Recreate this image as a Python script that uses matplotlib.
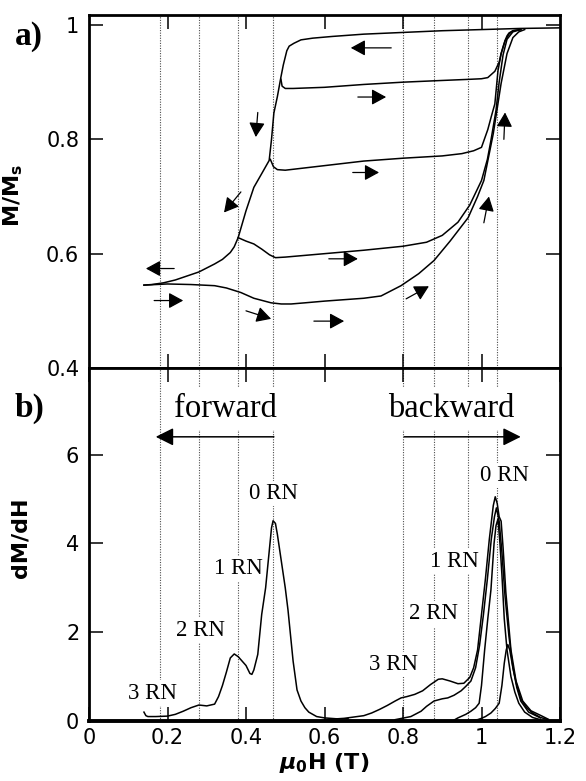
import numpy as np
import matplotlib
matplotlib.use("Agg")
import matplotlib.pyplot as plt

plt.rcParams['mathtext.fontset'] = 'custom'
plt.rcParams['mathtext.it'] = 'DejaVu Sans:italic:bold'
plt.rcParams['mathtext.rm'] = 'DejaVu Sans:bold'
plt.rcParams['mathtext.bf'] = 'DejaVu Sans:bold'

# ---- panel a: M/Ms loops ----
major_H = [1.2, 1.1, 1.0, 0.9, 0.8, 0.7, 0.62, 0.57, 0.54, 0.522, 0.51, 0.504, 0.495, 0.489,
           0.48, 0.471, 0.465, 0.459, 0.44, 0.42, 0.40, 0.38, 0.37, 0.36, 0.34, 0.32, 0.30,
           0.28, 0.25, 0.22, 0.19, 0.16, 0.14]
major_M = [0.995, 0.994, 0.992, 0.99, 0.987, 0.984, 0.98, 0.977, 0.974, 0.968, 0.963, 0.955,
           0.93, 0.909, 0.875, 0.846, 0.80, 0.763, 0.74, 0.716, 0.675, 0.628, 0.612, 0.602,
           0.59, 0.582, 0.575, 0.568, 0.561, 0.554, 0.549, 0.546, 0.545]

rec1_H = [0.489, 0.492, 0.50, 0.52, 0.56, 0.60, 0.70, 0.80, 0.90, 0.97, 1.0, 1.016, 1.034,
          1.045, 1.05, 1.055, 1.06, 1.065, 1.07, 1.08, 1.10]
rec1_M = [0.905, 0.893, 0.889, 0.889, 0.890, 0.891, 0.896, 0.90, 0.903, 0.905, 0.906, 0.908,
          0.919, 0.935, 0.95, 0.962, 0.973, 0.981, 0.986, 0.99, 0.992]

rec2_H = [0.462, 0.47, 0.48, 0.50, 0.55, 0.60, 0.70, 0.80, 0.90, 0.95, 0.98, 1.0, 1.016,
          1.025, 1.034, 1.042, 1.05, 1.06, 1.07, 1.08, 1.10]
rec2_M = [0.765, 0.752, 0.747, 0.746, 0.75, 0.754, 0.762, 0.767, 0.771, 0.775, 0.780, 0.786,
          0.817, 0.84, 0.862, 0.92, 0.95, 0.972, 0.984, 0.99, 0.992]

rec3_H = [0.38, 0.40, 0.42, 0.44, 0.46, 0.475, 0.50, 0.55, 0.60, 0.70, 0.80, 0.86, 0.90,
          0.94, 0.97, 1.0, 1.015, 1.024, 1.037, 1.045, 1.055, 1.065, 1.08, 1.10]
rec3_M = [0.628, 0.622, 0.617, 0.608, 0.598, 0.593, 0.594, 0.597, 0.60, 0.606, 0.613, 0.62,
          0.632, 0.655, 0.685, 0.728, 0.765, 0.798, 0.851, 0.90, 0.948, 0.975, 0.988, 0.992]

rec4_H = [0.14, 0.20, 0.26, 0.32, 0.35, 0.387, 0.42, 0.464, 0.49, 0.515, 0.55, 0.60, 0.70,
          0.744, 0.795, 0.84, 0.879, 0.92, 0.966, 0.99, 1.006, 1.03, 1.05, 1.065, 1.08, 1.095, 1.11]
rec4_M = [0.545, 0.547, 0.546, 0.544, 0.54, 0.532, 0.522, 0.514, 0.512, 0.512, 0.514, 0.517,
          0.522, 0.526, 0.544, 0.565, 0.588, 0.622, 0.663, 0.70, 0.728, 0.81, 0.898, 0.95,
          0.978, 0.988, 0.992]

# arrows in panel a: (tail H, tail M, tip H, tip M)
arrows_a = [
    (0.77, 0.96, 0.667, 0.96),
    (0.685, 0.874, 0.757, 0.874),
    (0.672, 0.742, 0.739, 0.742),
    (0.611, 0.591, 0.685, 0.591),
    (0.573, 0.482, 0.65, 0.482),
    (0.808, 0.521, 0.866, 0.543),
    (1.006, 0.654, 1.019, 0.70),
    (1.057, 0.80, 1.06, 0.847),
    (0.43, 0.847, 0.425, 0.804),
    (0.387, 0.708, 0.344, 0.672),
    (0.217, 0.574, 0.145, 0.574),
    (0.166, 0.518, 0.24, 0.518),
    (0.40, 0.50, 0.464, 0.486),
]

# ---- panel b: dM/dH ----
fwd_H = [0.14, 0.145, 0.15, 0.17, 0.20, 0.22, 0.24, 0.26, 0.28, 0.30, 0.32, 0.33, 0.34, 0.35,
         0.36, 0.37, 0.38, 0.39, 0.40, 0.41, 0.415, 0.42, 0.43, 0.44, 0.45, 0.46, 0.465, 0.469,
         0.475, 0.48, 0.49, 0.50, 0.507, 0.52, 0.53, 0.54, 0.55, 0.56, 0.58, 0.60, 0.63, 0.66]
fwd_D = [0.2, 0.12, 0.1, 0.1, 0.11, 0.15, 0.22, 0.3, 0.36, 0.34, 0.38, 0.55, 0.8, 1.1,
         1.42, 1.51, 1.45, 1.35, 1.25, 1.07, 1.05, 1.15, 1.5, 2.4, 3.0, 3.9, 4.35, 4.51,
         4.45, 4.2, 3.6, 3.0, 2.5, 1.35, 0.7, 0.45, 0.3, 0.2, 0.1, 0.07, 0.05, 0.05]

bwdA_H = [0.60, 0.65, 0.70, 0.72, 0.74, 0.76, 0.78, 0.795, 0.81, 0.83, 0.85, 0.87, 0.89, 0.90,
          0.92, 0.94, 0.955, 0.97, 0.98, 0.99, 1.0, 1.01, 1.02, 1.03, 1.035, 1.04, 1.045,
          1.05, 1.055, 1.062, 1.07, 1.075, 1.088, 1.105, 1.126, 1.152, 1.17]
bwdA_D = [0.03, 0.06, 0.12, 0.18, 0.26, 0.35, 0.45, 0.52, 0.55, 0.6, 0.68, 0.82, 0.94, 0.95,
          0.9, 0.84, 0.85, 0.98, 1.2, 1.6, 2.4, 3.2, 4.1, 4.85, 5.05, 4.9, 4.6, 4.5, 3.9,
          2.9, 2.1, 1.6, 0.9, 0.45, 0.23, 0.12, 0.04]

bwdB_H = [0.78, 0.82, 0.846, 0.86, 0.879, 0.90, 0.914, 0.93, 0.948, 0.96, 0.973, 0.985, 0.995,
          1.005, 1.015, 1.025, 1.033, 1.038, 1.045, 1.052, 1.06, 1.07, 1.08, 1.09, 1.10, 1.12, 1.15]
bwdB_D = [0.03, 0.1, 0.22, 0.33, 0.45, 0.5, 0.52, 0.58, 0.68, 0.78, 0.9, 1.2, 1.7, 2.4, 3.2,
          4.1, 4.6, 4.8, 4.5, 3.8, 2.8, 1.9, 1.2, 0.75, 0.45, 0.2, 0.07]

bwdC_H = [0.93, 0.94, 0.96, 0.973, 0.985, 0.994, 1.0, 1.008, 1.016, 1.024, 1.032, 1.037, 1.042,
          1.047, 1.052, 1.058, 1.065, 1.075, 1.085, 1.095, 1.11, 1.13, 1.15]
bwdC_D = [0.02, 0.07, 0.15, 0.22, 0.3, 0.4, 0.8, 1.6, 2.3, 2.95, 4.0, 4.4, 4.55, 4.0, 3.3,
          2.3, 1.6, 1.0, 0.65, 0.4, 0.2, 0.08, 0.03]

bwdD_H = [0.96, 0.99, 1.0, 1.01, 1.024, 1.035, 1.045, 1.052, 1.058, 1.063, 1.067, 1.072, 1.08,
          1.09, 1.10, 1.115, 1.13, 1.15, 1.17]
bwdD_D = [0.01, 0.03, 0.06, 0.1, 0.18, 0.28, 0.4, 0.8, 1.3, 1.6, 1.72, 1.6, 1.2, 0.8, 0.5,
          0.3, 0.18, 0.08, 0.03]

guide_H = [0.18, 0.28, 0.38, 0.47, 0.80, 0.88, 0.965, 1.04]

rn_labels = ["3 RN", "2 RN", "1 RN", "0 RN", "3 RN", "2 RN", "1 RN", "0 RN"]
rn_H = [0.163, 0.285, 0.38, 0.471, 0.775, 0.877, 0.932, 1.058]
rn_D = [0.63, 2.03, 3.43, 5.12, 1.28, 2.41, 3.6, 5.52]

fig = plt.figure(figsize=(5.86, 7.81), dpi=100)
W, Hh = 586.0, 781.0
ax1 = fig.add_axes([89 / W, (781 - 368) / Hh, 471 / W, 353 / Hh])
ax2 = fig.add_axes([89 / W, (781 - 721) / Hh, 471 / W, 353 / Hh])

serif = 'Liberation Serif'

for ax in (ax1, ax2):
    for x in guide_H:
        ax.axvline(x, ls=(0, (1, 1.3)), color='0.3', lw=0.8, zorder=1)
    ax.set_xlim(0, 1.2)
    for s in ax.spines.values():
        s.set_linewidth(2.0)
    ax.tick_params(direction='in', length=10, width=1.1, top=True, right=True,
                   labelsize=15, pad=7)

ax2.spines['bottom'].set_linewidth(2.8)
ax2.tick_params(axis='x', pad=5)

# panel a
lk = dict(color='k', lw=1.1, zorder=2)
ax1.plot(major_H, major_M, **lk)
ax1.plot(rec1_H, rec1_M, **lk)
ax1.plot(rec2_H, rec2_M, **lk)
ax1.plot(rec3_H, rec3_M, **lk)
ax1.plot(rec4_H, rec4_M, **lk)
for x0, y0, x1, y1 in arrows_a:
    ax1.annotate('', xy=(x1, y1), xytext=(x0, y0),
                 arrowprops=dict(arrowstyle='-|>,head_length=0.55,head_width=0.3',
                                 color='k', lw=0.9, shrinkA=0, shrinkB=0,
                                 mutation_scale=16), zorder=3)
ax1.set_ylim(0.4, 1.0175)
ax1.set_yticks([0.4, 0.6, 0.8, 1.0])
ax1.set_yticklabels(['0.4', '0.6', '0.8', '1'])
ax1.set_xticks([0.2, 0.4, 0.6, 0.8, 1.0])
ax1.tick_params(labelbottom=False)
ax1.set_ylabel(r'M/M$_{\rm s}$', fontsize=16, fontweight='bold')
ax1.yaxis.set_label_coords(-0.135, 0.49)
ax1.text(15 / W, 1 - 36 / Hh, 'a)', transform=fig.transFigure, fontsize=24,
         fontweight='bold', family=serif, va='center', ha='left')

# panel b
ax2.plot(fwd_H, fwd_D, **lk)
ax2.plot(bwdA_H, bwdA_D, **lk)
ax2.plot(bwdB_H, bwdB_D, **lk)
ax2.plot(bwdC_H, bwdC_D, **lk)
ax2.plot(bwdD_H, bwdD_D, **lk)
box = dict(facecolor='white', edgecolor='none', pad=1.5)
for lab, x, y in zip(rn_labels, rn_H, rn_D):
    ax2.text(x, y, lab, fontsize=16.5, family=serif, ha='center', va='center',
             bbox=box, zorder=3)
ax2.text(0.347, 7.03, 'forward', fontsize=23.5, family=serif, ha='center', va='center',
         bbox=dict(facecolor='white', edgecolor='none', pad=4), zorder=3)
ax2.text(0.922, 7.03, 'backward', fontsize=23.5, family=serif, ha='center', va='center',
         bbox=dict(facecolor='white', edgecolor='none', pad=4), zorder=3)
for x0, x1 in [(0.471, 0.17), (0.803, 1.10)]:
    ax2.annotate('', xy=(x1, 6.4), xytext=(x0, 6.4),
                 arrowprops=dict(arrowstyle='-|>,head_length=0.6,head_width=0.3',
                                 color='k', lw=1.1, shrinkA=0, shrinkB=0,
                                 mutation_scale=18), zorder=3)
ax2.set_ylim(0, 7.95)
ax2.set_yticks([0, 2, 4, 6])
ax2.set_yticklabels(['0', '2', '4', '6'])
ax2.set_xticks([0, 0.2, 0.4, 0.6, 0.8, 1.0, 1.2])
ax2.set_xticklabels(['0', '0.2', '0.4', '0.6', '0.8', '1', '1.2'])
ax2.set_ylabel('dM/dH', fontsize=16, fontweight='bold')
ax2.yaxis.set_label_coords(-0.125, 0.52)
ax2.set_xlabel(r'$\mu_0$H (T)', fontsize=16, fontweight='bold')
ax2.xaxis.set_label_coords(0.5, -0.085)
ax2.text(15 / W, 1 - 408 / Hh, 'b)', transform=fig.transFigure, fontsize=24,
         fontweight='bold', family=serif, va='center', ha='left')

fig.savefig('out.png', dpi=100)
